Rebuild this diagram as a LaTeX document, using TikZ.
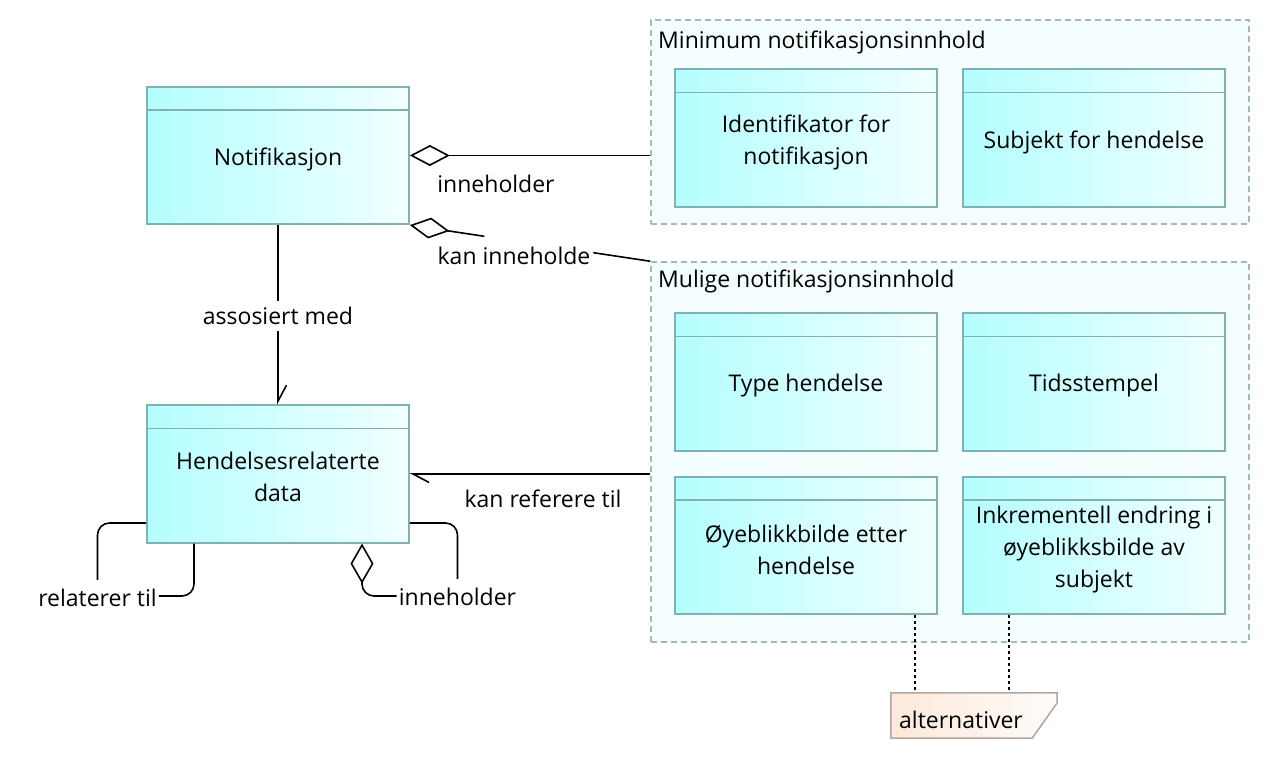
\documentclass[tikz,border=0pt]{standalone}
\usepackage{fontspec}
\setmainfont{Open Sans}
\usetikzlibrary{arrows.meta}
\definecolor{boxL}{HTML}{B4FEFF}
\definecolor{boxR}{HTML}{F2FFFF}
\definecolor{boxB}{HTML}{7FB2B0}
\definecolor{grpF}{HTML}{F4FEFF}
\definecolor{grpB}{HTML}{A6B9B9}
\definecolor{noteL}{HTML}{FCE9DA}
\definecolor{noteR}{HTML}{FFFCFA}
\definecolor{noteB}{HTML}{B3A69E}
\begin{document}
\begin{tikzpicture}[x=1pt,y=-1pt,
  font=\fontsize{23}{32}\selectfont,
  cls/.style={rectangle, draw=boxB, line width=1.7pt, left color=boxL, right color=boxR,
    minimum width=262pt, minimum height=137.5pt, inner sep=0pt},
  txt/.style={inner sep=0pt, align=center},
  grp/.style={rectangle, draw=grpB, fill=grpF, line width=1.5pt, dash pattern=on 6pt off 4pt,
    minimum width=598pt, inner sep=0pt},
  hdr/.style={draw=boxB, line width=1.7pt},
  conn/.style={draw=black, line width=1.6pt},
  lbl/.style={inner sep=0pt},
  dia/.style={{Diamond[open,length=40pt,width=21pt]}-},
  harp/.style={-{Straight Barb[harpoon,length=16pt,width=17pt]}},
  dots/.style={draw=black, line width=1.6pt, dash pattern=on 3pt off 3pt}
]
\useasboundingbox (0,0) rectangle (1272,762);

% groups
\node[grp, minimum height=204pt] (grp1) at (950,122) {};
\node[lbl, anchor=west] (grp1t) at (658,42) {Minimum notifikasjonsinnhold};
\node[grp, minimum height=380pt] (grp2) at (950,452) {};
\node[lbl, anchor=west] (grp2t) at (658,281) {Mulige notifikasjonsinnhold};

% class boxes
\node[cls] (notif) at (278,155.5) {};
\node[cls] (hend) at (278,474) {};
\node[cls] (ident) at (806,138) {};
\node[cls] (subj) at (1094,138) {};
\node[cls] (type) at (806,382) {};
\node[cls] (tid) at (1094,382) {};
\node[cls] (oyeb) at (806,545.5) {};
\node[cls] (inkr) at (1094,545.5) {};
\foreach \b in {notif,hend,ident,subj,type,tid,oyeb,inkr}{
  \draw[hdr] ([yshift=-24pt]\b.north west) -- ([yshift=-24pt]\b.north east);
}
\node[txt] (notifT) at ([yshift=-4pt]notif.center) {Notifikasjon};
\node[txt] (hendT) at ([yshift=-3pt]hend.center) {Hendelsesrelaterte\\data};
\node[txt] (identT) at ([yshift=-4pt]ident.center) {Identifikator for\\notifikasjon};
\node[txt] (subjT) at ([yshift=-4pt]subj.center) {Subjekt for hendelse};
\node[txt] (typeT) at ([yshift=-4pt]type.center) {Type hendelse};
\node[txt] (tidT) at ([yshift=-4pt]tid.center) {Tidsstempel};
\node[txt] (oyebT) at ([yshift=-4pt]oyeb.center) {Øyeblikkbilde etter\\hendelse};
\node[txt] (inkrT) at ([yshift=-4pt]inkr.center) {Inkrementell endring i\\øyeblikksbilde av\\subjekt};

% note
\node[inner sep=0pt, minimum width=166pt, minimum height=45pt] (note) at (974,715.5) {};
\shade[left color=noteL, right color=noteR, draw=noteB, line width=1.5pt]
  (note.north west) -- (note.north east) -- ([yshift=-10pt]note.north east)
  -- ([xshift=-25pt]note.south east) -- (note.south west) -- cycle;
\node[lbl, anchor=west] (notet) at (899,720) {alternativer};

% dotted note links
\draw[dots] ([xshift=-23pt]oyeb.south east) -- ([xshift=-23pt]oyeb.south east |- note.north);
\draw[dots] ([xshift=47pt]inkr.south west) -- ([xshift=47pt]inkr.south west |- note.north);

% inneholder (notif -> grp1)
\draw[conn, dia] (notif.east) -- (notif.east -| grp1.west);
\node[lbl] (inn1) at (496,184) {inneholder};

% kan inneholde
\path (notif.south east) -- coordinate[pos=0.31] (k1) coordinate[pos=0.763] (k2) (grp2.north west);
\draw[conn, dia] (notif.south east) -- (k1);
\draw[conn] (k2) -- (grp2.north west);
\node[lbl] (kaninn) at (514,256) {kan inneholde};

% assosiert med
\draw[conn, harp] (notif.south) -- (hend.north);
\node[lbl, fill=white, inner xsep=2pt, inner ysep=6pt] (assos) at (278,316) {assosiert med};

% kan referere til
\draw[conn, harp] (hend.east -| grp2.west) -- (hend.east);
\node[lbl] (kanref) at (543,499) {kan referere til};

% relaterer til (self)
\node[lbl, inner xsep=2pt, inner ysep=0pt, text height=16pt, text depth=5pt, minimum height=42pt] (rel) at (97.5,601) {relaterer til};
\draw[conn, rounded corners=12pt] ([yshift=-49pt]hend.west) -| (rel.north);
\draw[conn, rounded corners=12pt] ([yshift=5pt]rel.east) -| ([xshift=-84pt]hend.south);

% inneholder (self)
\node[lbl, inner xsep=2pt, inner ysep=0pt, text height=16pt, text depth=5pt, minimum height=42pt] (inn2) at (457.5,600) {inneholder};
\draw[conn, rounded corners=12pt, {Diamond[open,length=40pt,width=23pt]}-] ([xshift=84pt]hend.south) |- ([yshift=4pt]inn2.west);
\draw[conn, rounded corners=12pt] ([yshift=-49pt]hend.east) -| (inn2.north);
\end{tikzpicture}
\end{document}
